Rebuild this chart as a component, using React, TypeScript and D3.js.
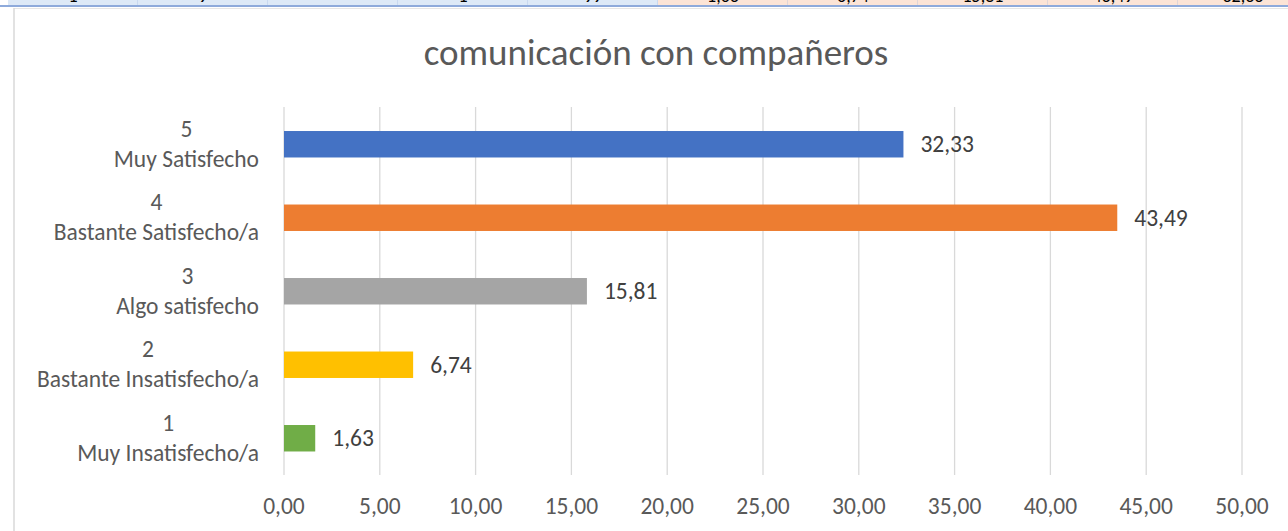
import { useRef, useEffect } from 'react';
import * as d3 from 'd3';

// chart values
const categories = [
  ['5', 'Muy Satisfecho'],
  ['4', 'Bastante Satisfecho/a'],
  ['3', 'Algo satisfecho'],
  ['2', 'Bastante Insatisfecho/a'],
  ['1', 'Muy Insatisfecho/a'],
];
const values = [32.33, 43.49, 15.81, 6.74, 1.63];
const barColors = ['#4472c4', '#ed7d31', '#a5a5a5', '#ffc000', '#70ad47'];
const xTicks = [0, 5, 10, 15, 20, 25, 30, 35, 40, 45, 50];
const title = 'comunicación con compañeros';

// spreadsheet row peeking above the chart
const cellTexts = ['1', '9', '', '1', '99', '1,63', '6,74', '15,81', '43,49', '32,33'];

const WIDTH = 1288;
const HEIGHT = 531;
const FONT = 'Calibri, Carlito, Lato, sans-serif';
const LABEL_SIZE = 23.5;

const fmt = (v: number) => v.toFixed(2).replace('.', ',');

export default function App() {
  const svgRef = useRef<SVGSVGElement | null>(null);

  useEffect(() => {
    const svg = d3.select(svgRef.current);
    svg.selectAll('*').remove();

    svg.append('rect').attr('width', WIDTH).attr('height', HEIGHT).attr('fill', '#ffffff');

    // --- sheet strip on top
    const strip = svg.append('g');
    const clip = svg.append('defs').append('clipPath').attr('id', 'stripClip');
    clip.append('rect').attr('width', WIDTH).attr('height', 5);
    const cellW = 130;
    const cellX0 = 8;
    cellTexts.forEach((t, i) => {
      const x = cellX0 + i * cellW;
      strip.append('rect')
        .attr('x', x).attr('y', 0).attr('width', cellW).attr('height', 5)
        .attr('fill', i < 5 ? '#dde9f7' : '#fce4d6');
      strip.append('line')
        .attr('x1', x + cellW + 0.5).attr('x2', x + cellW + 0.5)
        .attr('y1', 0).attr('y2', 6)
        .attr('stroke', '#8eaadb').attr('stroke-width', 1.5);
      strip.append('text')
        .attr('clip-path', 'url(#stripClip)')
        .attr('x', x + cellW / 2).attr('y', 2)
        .attr('text-anchor', 'middle')
        .attr('font-family', FONT).attr('font-size', 18)
        .attr('fill', '#000000')
        .text(t);
    });
    strip.append('rect').attr('x', 0).attr('y', 5).attr('width', WIDTH).attr('height', 2).attr('fill', '#8eaadb');
    strip.append('line').attr('x1', 14).attr('x2', WIDTH).attr('y1', 8.5).attr('y2', 8.5)
      .attr('stroke', '#e6e6e6').attr('stroke-width', 1);
    // chart area border
    svg.append('line').attr('x1', 14).attr('x2', 14).attr('y1', 8).attr('y2', HEIGHT)
      .attr('stroke', '#d9d9d9').attr('stroke-width', 1.5);

    // --- title
    svg.append('text')
      .attr('x', 656).attr('y', 65)
      .attr('text-anchor', 'middle')
      .attr('font-family', FONT).attr('font-size', 37)
      .attr('fill', '#595959')
      .text(title);

    // scales
    const x = d3.scaleLinear().domain([0, 50]).range([284, 1242]);
    const y = d3.scaleBand<string>()
      .domain(categories.map((c) => c[0]))
      .range([107.5, 475])
      .paddingInner(0.64)
      .paddingOuter(0.32);

    // gridlines
    svg.append('g')
      .selectAll('line')
      .data(xTicks)
      .join('line')
      .attr('x1', (d) => x(d)).attr('x2', (d) => x(d))
      .attr('y1', 107).attr('y2', 475)
      .attr('stroke', '#d9d9d9').attr('stroke-width', 1.3);

    // tick labels
    svg.append('g')
      .selectAll('text')
      .data(xTicks)
      .join('text')
      .attr('x', (d) => x(d)).attr('y', 514)
      .attr('text-anchor', 'middle')
      .attr('font-family', FONT).attr('font-size', LABEL_SIZE)
      .attr('fill', '#595959')
      .text((d) => fmt(d));

    // bars
    svg.append('g')
      .selectAll('rect')
      .data(values)
      .join('rect')
      .attr('x', x(0))
      .attr('y', (_, i) => y(categories[i][0]) as number)
      .attr('width', (d) => x(d) - x(0))
      .attr('height', y.bandwidth())
      .attr('fill', (_, i) => barColors[i]);

    // value labels
    svg.append('g')
      .selectAll('text')
      .data(values)
      .join('text')
      .attr('x', (d) => x(d) + 17)
      .attr('y', (_, i) => (y(categories[i][0]) as number) + y.bandwidth() / 2)
      .attr('dy', '0.34em')
      .attr('font-family', FONT).attr('font-size', LABEL_SIZE)
      .attr('fill', '#404040')
      .text((d) => fmt(d));

    // category labels: two centred lines, block right-aligned to the axis
    const labelRight = 259;
    categories.forEach((c) => {
      const cy = (y(c[0]) as number) + y.bandwidth() / 2;
      const g = svg.append('g');
      const lines = c.map((t, k) => g.append('text')
        .attr('y', cy + (k === 0 ? -7.4 : 22.4))
        .attr('text-anchor', 'middle')
        .attr('font-family', FONT).attr('font-size', LABEL_SIZE)
        .attr('fill', '#595959')
        .text(t));
      const widest = d3.max(lines, (l) => (l.node() as SVGTextElement).getComputedTextLength()) || 0;
      lines.forEach((l) => l.attr('x', labelRight - widest / 2));
    });
  }, []);

  return (
    <svg
      ref={svgRef}
      width={WIDTH}
      height={HEIGHT}
      style={{ position: 'absolute', left: 0, top: 0, display: 'block' }}
    />
  );
}
